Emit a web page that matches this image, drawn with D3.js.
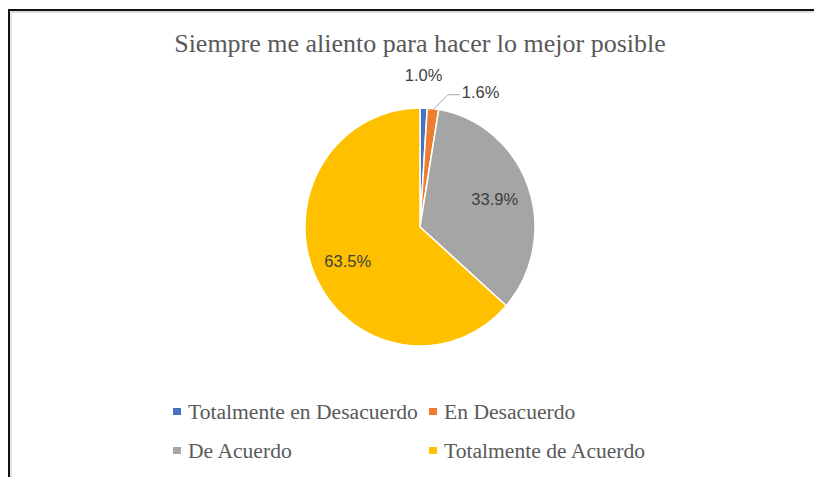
<!DOCTYPE html>
<html>
<head>
<meta charset="utf-8">
<script src="https://cdn.jsdelivr.net/npm/d3@7"></script>
<style>
  html, body { margin: 0; padding: 0; background: #ffffff; }
  svg { display: block; }
</style>
</head>
<body>
<svg id="chart" width="814" height="477"></svg>
<script>
const title = "Siempre me aliento para hacer lo mejor posible";
const categories = ["Totalmente en Desacuerdo", "En Desacuerdo", "De Acuerdo", "Totalmente de Acuerdo"];
const values = [1.0, 1.6, 33.9, 63.5];
const labels = ["1.0%", "1.6%", "33.9%", "63.5%"];
const colors = ["#4472C4", "#ED7D31", "#A5A5A5", "#FFC000"];

const svg = d3.select("#chart");
const W = 814, H = 477;

// frame (top and left borders visible)
svg.append("line").attr("x1", 9).attr("y1", 10).attr("x2", W).attr("y2", 10)
  .attr("stroke", "#111").attr("stroke-width", 2);
svg.append("line").attr("x1", 9).attr("y1", 9).attr("x2", 9).attr("y2", H)
  .attr("stroke", "#111").attr("stroke-width", 2);
svg.append("line").attr("x1", 11).attr("y1", 12).attr("x2", W).attr("y2", 12)
  .attr("stroke", "#bbb").attr("stroke-width", 1);
svg.append("line").attr("x1", 11).attr("y1", 12).attr("x2", 11).attr("y2", H)
  .attr("stroke", "#ccc").attr("stroke-width", 1);

// title
svg.append("text")
  .attr("x", 420).attr("y", 52)
  .attr("text-anchor", "middle")
  .attr("font-family", "'Liberation Serif', 'Times New Roman', serif")
  .attr("font-size", 26)
  .attr("fill", "#595959")
  .text(title);

const cx = 420, cy = 227, R = 115, sy = 1.035;
const data = categories.map((c, i) => ({ cat: c, value: values[i], label: labels[i], color: colors[i] }));
const pie = d3.pie().value(d => d.value).sort(null);
const arcs = pie(data);
const arc = d3.arc().innerRadius(0).outerRadius(R);

const g = svg.append("g").attr("transform", `translate(${cx},${cy}) scale(1,${sy})`);
g.selectAll("path.slice").data(arcs).enter().append("path")
  .attr("class", "slice")
  .attr("d", arc)
  .attr("fill", d => d.data.color)
  .attr("stroke", "#ffffff")
  .attr("stroke-width", 1.5)
  .attr("stroke-linejoin", "round");

const lg = svg.append("g").attr("transform", `translate(${cx},${cy})`);
const labelFont = "'Liberation Sans', Arial, sans-serif";
const labelSize = 16.5;
const mid = d => (d.startAngle + d.endAngle) / 2;

arcs.forEach((d, i) => {
  const a = mid(d);
  if (i >= 2) {
    const r = R * 0.69;
    lg.append("text")
      .attr("x", Math.sin(a) * r)
      .attr("y", -Math.cos(a) * r * sy)
      .attr("text-anchor", "middle")
      .attr("dominant-baseline", "central")
      .attr("font-family", labelFont).attr("font-size", labelSize)
      .attr("fill", "#404040")
      .text(d.data.label);
  } else if (i === 0) {
    const r = R + 32;
    lg.append("text")
      .attr("x", Math.sin(a) * r - 1)
      .attr("y", -Math.cos(a) * r * sy)
      .attr("text-anchor", "middle")
      .attr("dominant-baseline", "central")
      .attr("font-family", labelFont).attr("font-size", labelSize)
      .attr("fill", "#404040")
      .text(d.data.label);
  } else {
    const x0 = Math.sin(a) * (R - 1), y0 = -Math.cos(a) * (R - 1) * sy;
    const x1 = x0 + 15, y1 = y0 - 15;
    const x2 = x1 + 12;
    lg.append("polyline")
      .attr("points", `${x0},${y0} ${x1},${y1} ${x2},${y1}`)
      .attr("fill", "none").attr("stroke", "#A6A6A6").attr("stroke-width", 1);
    lg.append("text")
      .attr("x", x2 + 2).attr("y", y1 - 3)
      .attr("text-anchor", "start")
      .attr("dominant-baseline", "central")
      .attr("font-family", labelFont).attr("font-size", labelSize)
      .attr("fill", "#404040")
      .text(d.data.label);
  }
});

// legend
const legendCols = [173, 429];
const legendRows = [412, 451];
const leg = svg.append("g");
data.forEach((d, i) => {
  const x = legendCols[i % 2], y = legendRows[Math.floor(i / 2)];
  leg.append("rect").attr("x", x).attr("y", y - 4).attr("width", 8).attr("height", 7).attr("fill", d.color);
  leg.append("text")
    .attr("x", x + 15).attr("y", y)
    .attr("dominant-baseline", "central")
    .attr("font-family", "'Liberation Serif', 'Times New Roman', serif")
    .attr("font-size", 21.6)
    .attr("fill", "#595959")
    .text(d.cat);
});
</script>
</body>
</html>
